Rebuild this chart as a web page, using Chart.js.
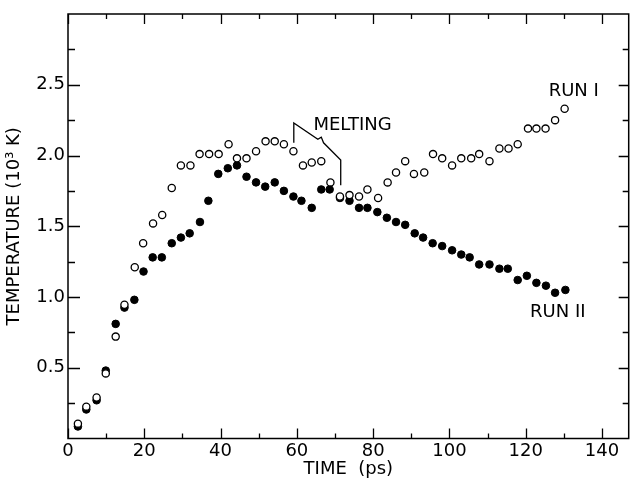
<!DOCTYPE html>
<html><head><meta charset="utf-8">
<script src="https://cdn.jsdelivr.net/npm/chart.js@4/dist/chart.umd.min.js"></script>
<style>html,body{margin:0;padding:0;background:#fff}</style>
</head><body>
<canvas id="c" width="634" height="481"></canvas>
<script>
// ---- data ----
const timeRun1 = [2.6,4.8,7.5,9.9,12.5,14.8,17.5,19.7,22.3,24.7,27.2,29.6,32.1,34.5,37.0,39.5,42.1,44.3,46.8,49.3,51.8,54.2,56.6,59.1,61.6,63.9,66.4,68.8,71.3,73.8,76.3,78.5,81.3,83.8,86.0,88.4,90.7,93.4,95.7,98.1,100.7,103.1,105.7,107.8,110.5,113.1,115.5,117.9,120.6,122.8,125.2,127.7,130.2];
const tempRun1 = [0.105,0.225,0.29,0.46,0.72,0.945,1.21,1.38,1.52,1.58,1.77,1.93,1.93,2.01,2.01,2.01,2.08,1.98,1.98,2.03,2.10,2.10,2.08,2.03,1.93,1.95,1.96,1.81,1.71,1.72,1.71,1.76,1.70,1.81,1.88,1.96,1.87,1.88,2.01,1.98,1.93,1.98,1.98,2.01,1.96,2.05,2.05,2.08,2.19,2.19,2.19,2.25,2.33];
const timeRun2 = [2.6,4.8,7.5,9.9,12.5,14.8,17.4,19.8,22.2,24.6,27.2,29.6,31.9,34.6,36.8,39.4,41.9,44.3,46.8,49.3,51.7,54.2,56.6,59.1,61.2,63.9,66.4,68.6,71.3,73.8,76.3,78.5,81.1,83.6,86.0,88.4,90.9,93.1,95.6,98.1,100.7,103.1,105.3,107.8,110.5,113.1,115.3,117.9,120.3,122.8,125.3,127.7,130.4];
const tempRun2 = [0.085,0.205,0.27,0.48,0.81,0.925,0.98,1.18,1.28,1.28,1.38,1.42,1.45,1.53,1.68,1.87,1.91,1.93,1.85,1.81,1.78,1.81,1.75,1.71,1.68,1.63,1.76,1.76,1.70,1.68,1.63,1.63,1.60,1.56,1.53,1.51,1.45,1.42,1.38,1.36,1.33,1.30,1.28,1.23,1.23,1.20,1.20,1.12,1.15,1.10,1.08,1.03,1.05];
const meltingPathX = [59.2,59.2,65.5,66.4,67.0,71.5,71.5];
const meltingPathY = [2.09,2.23,2.115,2.13,2.09,1.968,1.79];
const xTickValues = [0,10,20,30,40,50,60,70,80,90,100,110,120,130,140];
const xLabelValues = [0,20,40,60,80,100,120,140];
const yTickValues = [0.25,0.5,0.75,1.0,1.25,1.5,1.75,2.0,2.25,2.5,2.75];
const yLabelValues = [0.5,1.0,1.5,2.0,2.5];
const textLabels = [
  {text:'MELTING', x:74.6, y:2.215},
  {text:'RUN I', x:132.6, y:2.45},
  {text:'RUN II', x:128.4, y:0.893}
];

const FONT = '"DejaVu Sans", "Liberation Sans", sans-serif';
const toPts = (xs, ys) => xs.map((x, i) => ({x: x, y: ys[i]}));

const framePlugin = {
  id: 'frame',
  afterDatasetsDraw(chart) {
    const ctx = chart.ctx, a = chart.chartArea;
    const xs = chart.scales.x, ys = chart.scales.y;
    ctx.save();
    ctx.strokeStyle = '#000';
    ctx.lineWidth = 1.5;
    ctx.strokeRect(a.left, a.top, a.right - a.left, a.bottom - a.top);
    ctx.lineWidth = 1.3;
    ctx.beginPath();
    xTickValues.forEach(v => {
      const p = Math.round(xs.getPixelForValue(v)) + 0.5;
      const len = xLabelValues.includes(v) ? 10 : 5;
      ctx.moveTo(p, a.bottom); ctx.lineTo(p, a.bottom - len);
      ctx.moveTo(p, a.top); ctx.lineTo(p, a.top + len);
    });
    yTickValues.forEach(v => {
      const p = Math.round(ys.getPixelForValue(v)) + 0.5;
      const major = yLabelValues.includes(v);
      ctx.moveTo(a.left, p); ctx.lineTo(a.left + (major ? 12 : 7), p);
      ctx.moveTo(a.right, p); ctx.lineTo(a.right - (major ? 10 : 6), p);
    });
    ctx.stroke();
    ctx.fillStyle = '#000';
    ctx.font = '18px ' + FONT;
    ctx.textAlign = 'center';
    ctx.textBaseline = 'middle';
    textLabels.forEach(t => {
      ctx.fillText(t.text, xs.getPixelForValue(t.x), ys.getPixelForValue(t.y));
    });
    ctx.restore();
  }
};

new Chart(document.getElementById('c'), {
  type: 'scatter',
  data: {
    datasets: [
      {label:'RUN I', data: toPts(timeRun1, tempRun1), pointRadius: 3.6, pointBorderWidth: 1.3,
       borderColor:'#000', backgroundColor:'#fff', pointBackgroundColor:'#fff', pointBorderColor:'#000'},
      {label:'RUN II', data: toPts(timeRun2, tempRun2), pointRadius: 3.8, pointBorderWidth: 1,
       borderColor:'#000', backgroundColor:'#000', pointBackgroundColor:'#000', pointBorderColor:'#000'},
      {label:'melting', data: toPts(meltingPathX, meltingPathY), showLine: true, pointRadius: 0,
       borderColor:'#000', borderWidth: 1.3, fill:false, tension:0}
    ]
  },
  options: {
    responsive: false,
    animation: false,
    devicePixelRatio: 1,
    layout: {padding: {top: 14, right: 1, left: 0, bottom: 0}},
    plugins: {legend: {display: false}, tooltip: {enabled: false}},
    scales: {
      x: {
        type: 'linear', min: 0, max: 147,
        afterBuildTicks: s => { s.ticks = xTickValues.map(v => ({value: v})); },
        afterFit: s => { s.height = 42.5; },
        grid: {display: false, drawTicks: false},
        border: {display: false},
        ticks: {
          autoSkip: false, maxRotation: 0, padding: 2, color: '#000',
          font: {family: FONT, size: 18},
          callback: v => xLabelValues.includes(v) ? String(v) : ''
        },
        title: {display: true, text: 'TIME  (ps)', color: '#000',
          font: {family: FONT, size: 18}, padding: {top: 0, bottom: 1}}
      },
      y: {
        type: 'linear', min: 0, max: 3,
        afterBuildTicks: s => { s.ticks = yTickValues.map(v => ({value: v})); },
        afterFit: s => { s.width = 68; },
        grid: {display: false, drawTicks: false},
        border: {display: false},
        ticks: {
          autoSkip: false, padding: 3, color: '#000',
          font: {family: FONT, size: 18},
          callback: v => yLabelValues.includes(v) ? v.toFixed(1) : ''
        },
        title: {display: true, text: 'TEMPERATURE (10³ K)', color: '#000',
          font: {family: FONT, size: 18}, padding: {top: 4, bottom: 0}}
      }
    }
  },
  plugins: [framePlugin]
});
</script>
</body></html>
